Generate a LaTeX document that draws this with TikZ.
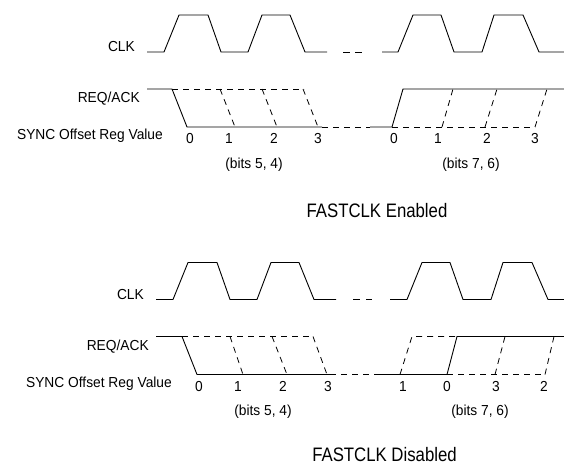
\documentclass[tikz,border=0pt]{standalone}
\usepackage{fontspec}
\setmainfont{Liberation Sans}[FakeStretch=0.95]
\newfontfamily\ttlfont{Liberation Sans}[FakeStretch=0.86]
\begin{document}
\begin{tikzpicture}[x=1pt,y=-1pt,
  sig/.style={line width=0.9pt,line join=miter},
  dsig/.style={line width=0.8pt,dash pattern=on 6pt off 5pt},
  lbl/.style={font=\fontsize{14.5}{16}\selectfont,inner sep=0pt,anchor=base east},
  num/.style={font=\fontsize{14.5}{16}\selectfont,inner sep=0pt,anchor=base},
  ttl/.style={font=\ttlfont\fontsize{19.5}{22}\selectfont,inner sep=0pt,anchor=base}]
\useasboundingbox (0,0) rectangle (564,465);

% ===== Top diagram: FASTCLK Enabled =====
\node[lbl] (clkA) at (135,52) {CLK};
\node[lbl] (reqA) at (140,103) {REQ/ACK};
\node[lbl] (syncA) at (163,140) {SYNC Offset Reg Value};
% CLK
\draw[sig] (147,52)--(164,52)--(179,15)--(208,15)--(221,52)--(248,52)--(262,15)--(290,15)--(305,52)--(327,52);
\draw[sig] (343,52)--(350,52) (355,52)--(362,52);
\draw[sig] (382,52)--(398,52)--(413,15)--(441,15)--(454,52)--(482,52)--(494,15)--(523,15)--(539,52)--(564,52);
% REQ/ACK
\draw[sig] (147,89)--(172,89)--(187,127)--(322,127);
\draw[dsig] (172,89)--(304,89);
\draw[dsig] (220,89)--(235,127) (262,89)--(277,127) (303,89)--(318,127);
\draw[dsig] (322,127)--(370,127);
\draw[sig] (370,127)--(392,127)--(403,89)--(564,89);
\draw[dsig] (392,127)--(535,127);
\draw[dsig] (442,127)--(453,89) (485,127)--(497,89) (535,127)--(547,89);
% values
\node[num] (a0) at (190,144) {0};
\node[num] (a1) at (229,144) {1};
\node[num] (a2) at (274,144) {2};
\node[num] (a3) at (318,144) {3};
\node[num] (b0) at (394,144) {0};
\node[num] (b1) at (438,144) {1};
\node[num] (b2) at (487,144) {2};
\node[num] (b3) at (535,144) {3};
\node[num] (bitsA) at (254,168) {(bits 5, 4)};
\node[num] (bitsB) at (471,168) {(bits 7, 6)};
\node[ttl] (ttlA) at (377,217) {FASTCLK Enabled};

% ===== Bottom diagram: FASTCLK Disabled =====
\begin{scope}[shift={(9,247.5)}]
\node[lbl] (clkB) at (135,52) {CLK};
\node[lbl] (reqB) at (140,103) {REQ/ACK};
\node[lbl] (syncB) at (163,140) {SYNC Offset Reg Value};
% CLK
\draw[sig] (147,52)--(164,52)--(179,15)--(208,15)--(221,52)--(248,52)--(262,15)--(290,15)--(305,52)--(327,52);
\draw[sig] (344,52)--(351,52) (357,52)--(363,52);
\draw[sig] (381,52)--(398,52)--(413,15)--(441,15)--(454,52)--(482,52)--(494,15)--(523,15)--(539,52)--(555,52);
% REQ/ACK
\draw[sig] (147,89)--(173,89)--(188,127)--(321,127);
\draw[dsig] (173,89)--(304,89);
\draw[dsig] (221,89)--(234,127) (263,89)--(278,127) (304,89)--(318,127);
\draw[dsig] (321,127)--(371,127);
\draw[sig] (371,127)--(438,127)--(448,89)--(555,89);
\draw[dsig] (391,127)--(403,89)--(448,89);
\draw[dsig] (438,127)--(536,127);
\draw[dsig] (486,127)--(496,89) (536,127)--(545,89);
% values
\node[num] (c0) at (190,144) {0};
\node[num] (c1) at (229,144) {1};
\node[num] (c2) at (274,144) {2};
\node[num] (c3) at (319,144) {3};
\node[num] (d1) at (394,144) {1};
\node[num] (d0) at (438,144) {0};
\node[num] (d3) at (487,144) {3};
\node[num] (d2) at (535,144) {2};
\node[num] (bitsC) at (254,168) {(bits 5, 4)};
\node[num] (bitsD) at (471,168) {(bits 7, 6)};
\end{scope}
\node[ttl] (ttlB) at (384.5,461) {FASTCLK Disabled};
\end{tikzpicture}
\end{document}
